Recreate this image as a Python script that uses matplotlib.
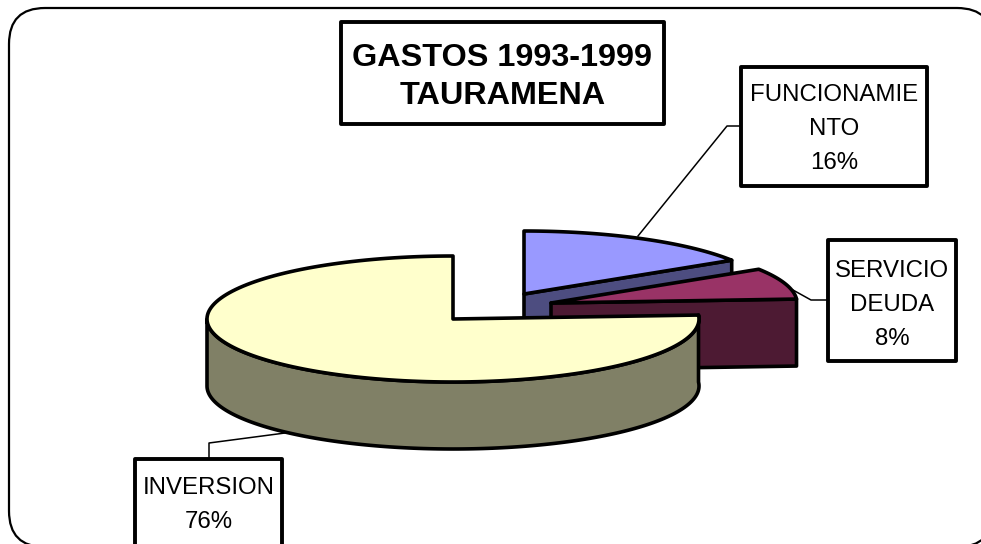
import numpy as np
import matplotlib
matplotlib.use("Agg")
import matplotlib.pyplot as plt
from matplotlib.patches import FancyBboxPatch, Polygon, Rectangle

# Data
categories = ["INVERSION", "FUNCIONAMIE\nNTO", "SERVICIO\nDEUDA"]
values = [76, 16, 8]
title_text = "GASTOS 1993-1999\nTAURAMENA"

# Styles (canvas is in pixels, y down)
top_colors = ["#FFFFCC", "#9999FF", "#993366"]
side_colors = ["#808066", "#4D4D80", "#4D1A33"]
apexes = [(453, 319), (524, 294), (551, 303)]
RX, RY, DEPTH = 246, 63, 67
EDGE = 2.6

plt.rcParams["font.family"] = ["Liberation Sans", "DejaVu Sans"]

fig = plt.figure(figsize=(9.81, 5.44), dpi=100)
ax = fig.add_axes([0, 0, 1, 1])
ax.set_xlim(0, 981)
ax.set_ylim(544, 0)
ax.axis("off")


def arc_points(apex, a0, a1):
    angles = np.radians(np.linspace(a0, a1, 160))
    return np.column_stack([apex[0] + RX * np.cos(angles), apex[1] - RY * np.sin(angles)])


def draw_slice(apex, a0, a1, top, side, z, cut_face=True):
    """Slice runs counterclockwise from a0 to a1 degrees."""
    arc = arc_points(apex, a0, a1)
    down = np.array([0, DEPTH])

    # outer wall, only the part facing the viewer
    wall_start = max(a0, 180)
    if a1 > wall_start:
        front = arc_points(apex, wall_start, a1)
        wall = np.vstack([front, (front + down)[::-1]])
        ax.add_patch(Polygon(wall, closed=True, fc=side, ec="black", lw=EDGE, joinstyle="round", zorder=z))

    # cut face on the right hand side of the slice
    if cut_face:
        end = arc[0]
        face = np.array([apex, end, end + down, np.array(apex) + down])
        ax.add_patch(Polygon(face, closed=True, fc=side, ec="black", lw=EDGE, joinstyle="round", zorder=z))

    outline = np.vstack([[apex], arc])
    ax.add_patch(Polygon(outline, closed=True, fc=top, ec="black", lw=EDGE, joinstyle="round", zorder=z + 0.5))


def label_box(x0, y0, x1, y1, text, cy, size=17.3, weight="normal", lw=2.8, spacing=1.7):
    ax.add_patch(Rectangle((x0, y0), x1 - x0, y1 - y0, fc="white", ec="black", lw=lw, joinstyle="round", zorder=6))
    ax.text((x0 + x1) / 2, cy, text, ha="center", va="center", fontsize=size, fontweight=weight,
            color="black", linespacing=spacing, zorder=7)


# chart frame, runs off the right and bottom of the image
ax.add_patch(FancyBboxPatch((45, 44), 912, 467,
                            boxstyle="round,pad=36,rounding_size=36", fc="white", ec="black", lw=1.6,
                            zorder=0))

# slices: angles follow from the shares, starting at 12 o'clock
total = sum(values)
sweeps = [v / total * 360 for v in values]
inv_end = 90 + sweeps[0]
fun_end = 90 - sweeps[1]
ser_end = fun_end - sweeps[2]

draw_slice(apexes[1], fun_end, 90, top_colors[1], side_colors[1], 1)
draw_slice(apexes[2], ser_end, fun_end, top_colors[2], side_colors[2], 2)
draw_slice(apexes[0], 90, inv_end, top_colors[0], side_colors[0], 3, cut_face=False)

# leader lines
ax.plot([741, 727, 638], [126, 126, 236], color="black", lw=1.1, zorder=5)
ax.plot([828, 811, 793], [300, 300, 290], color="black", lw=1.1, zorder=5)
ax.plot([209, 209, 285], [459, 443, 433], color="black", lw=1.1, zorder=5)

# labels
label_box(741, 67, 927, 186, f"{categories[1]}\n{values[1]}%", 129)
label_box(828, 240, 956, 361, f"{categories[2]}\n{values[2]}%", 305)
label_box(135, 459, 282, 560, f"{categories[0]}\n{values[0]}%", 505)
label_box(341, 22, 664, 124, title_text, 77, size=23.3, weight="bold", spacing=1.35)

fig.savefig("out.png", dpi=100)
plt.close(fig)
